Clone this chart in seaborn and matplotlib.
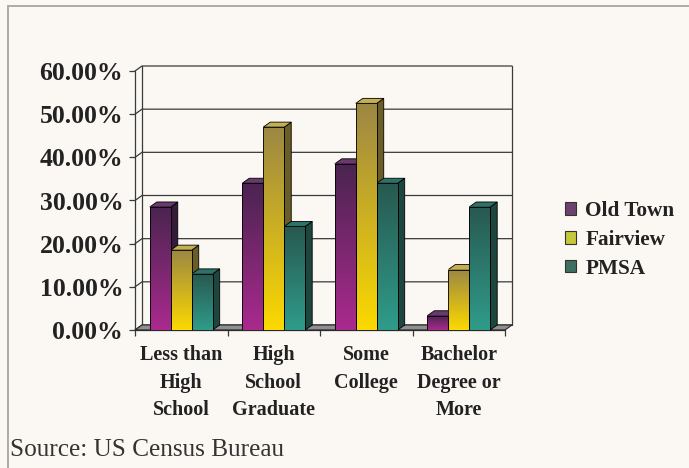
import numpy as np
import pandas as pd
import matplotlib
matplotlib.use("Agg")
import matplotlib.pyplot as plt
import seaborn as sns
from matplotlib.patches import Polygon, Patch
from matplotlib.colors import LinearSegmentedColormap, to_rgb
from matplotlib.lines import Line2D
from matplotlib.transforms import IdentityTransform

# ---- data -------------------------------------------------------------
levels = ["Less than\nHigh\nSchool", "High\nSchool\nGraduate",
          "Some\nCollege", "Bachelor\nDegree or\nMore"]
areas = ["Old Town", "Fairview", "PMSA"]
old_town = [28.5, 34.0, 38.5, 3.3]
fairview = [18.5, 47.0, 52.5, 14.0]
pmsa = [13.0, 24.0, 34.0, 28.5]
y_ticks = [0, 10, 20, 30, 40, 50, 60]
y_tick_labels = [f"{t:.2f}%" for t in y_ticks]
source_note = "Source: US Census Bureau"

df = pd.DataFrame({
    "level": levels * 3,
    "area": [a for a in areas for _ in levels],
    "pct": old_town + fairview + pmsa,
})

# ---- styling ----------------------------------------------------------
BG = "#fbf8f3"
INK = "#222222"
SERIF = "Liberation Serif"
DX, DY = 7, 5          # oblique depth of walls and bars, in pixels

shades = {
    "Old Town": dict(top="#4a2450", bottom="#aa2a8e", side="#361a3a", cap="#6a3a6e", swatch="#6b4270"),
    "Fairview": dict(top="#9c8744", bottom="#fcd900", side="#6a5e26", cap="#c4b050", swatch="#c6c83c"),
    "PMSA":     dict(top="#285850", bottom="#2f9c8a", side="#1d463f", cap="#2d7266", swatch="#3f6e62"),
}
palette = {a: shades[a]["swatch"] for a in areas}

sns.set_style("white")
plt.rcParams["font.family"] = [SERIF, "DejaVu Serif"]

fig = plt.figure(figsize=(6.89, 4.68), dpi=100, facecolor=BG)
ax = fig.add_axes([135 / 689, 138 / 468, 370 / 689, 259 / 468])
ax.patch.set_visible(False)

sns.barplot(data=df, x="level", y="pct", hue="area", order=levels,
            hue_order=areas, palette=palette, width=0.68, gap=0,
            saturation=1, legend=False, ax=ax, edgecolor="black",
            linewidth=0.6, zorder=3)
ax.set_xlim(-0.5, len(levels) - 0.5)
ax.set_ylim(0, 60)
for s in ax.spines.values():
    s.set_visible(False)
ax.set_xlabel("")
ax.set_ylabel("")

bars = list(ax.patches)


def px(x, y):
    return np.asarray(ax.transData.transform((x, y)), dtype=float)


off = np.array([DX, DY], dtype=float)
x_lo, x_hi = -0.5, len(levels) - 0.5

# back wall gridlines and left wall
for t in y_ticks:
    a = px(x_lo, t)
    c = px(x_hi, t) + off
    ax.add_line(Line2D([a[0], a[0] + DX, c[0]], [a[1], a[1] + DY, c[1]],
                       transform=IdentityTransform(), color="#3a3a3a",
                       lw=0.9, zorder=1, clip_on=False))
f0, f1 = px(x_lo, 0), px(x_lo, 60)
ax.add_line(Line2D([f0[0], f1[0]], [f0[1], f1[1]], transform=IdentityTransform(),
                   color="#3a3a3a", lw=0.9, zorder=1, clip_on=False))
for x in (x_lo, x_hi):
    b0, b1 = px(x, 0) + off, px(x, 60) + off
    ax.add_line(Line2D([b0[0], b1[0]], [b0[1], b1[1]], transform=IdentityTransform(),
                       color="#3a3a3a", lw=0.9, zorder=1, clip_on=False))

# floor
fl, fr = px(x_lo, 0), px(x_hi, 0)
ax.add_patch(Polygon([fl, fr, fr + off, fl + off], closed=True,
                     transform=IdentityTransform(), facecolor="#8f8f8f",
                     edgecolor="#2a2a2a", lw=0.8, zorder=1.2, clip_on=False))

# bars: gradient front faces plus side and top faces
grad = np.linspace(0, 1, 256).reshape(-1, 1)
swatch_rgb = {a: to_rgb(shades[a]["swatch"]) for a in areas}
for bar in bars:
    fc = bar.get_facecolor()[:3]
    area = min(areas, key=lambda a: sum((p - q) ** 2 for p, q in zip(fc, swatch_rgb[a])))
    sh = shades[area]
    x0, w, h = bar.get_x(), bar.get_width(), bar.get_height()
    cmap = LinearSegmentedColormap.from_list(area, [sh["top"], sh["bottom"]])
    ax.imshow(grad, extent=[x0, x0 + w, 0, h], cmap=cmap, aspect="auto",
              origin="upper", interpolation="bilinear", zorder=3)
    bar.set_facecolor("none")
    bar.set_zorder(3.1)

    bl, br, tr, tl = px(x0, 0), px(x0 + w, 0), px(x0 + w, h), px(x0, h)
    ax.add_patch(Polygon([br, br + off, tr + off, tr], closed=True,
                         transform=IdentityTransform(), facecolor=sh["side"],
                         edgecolor="black", lw=0.6, zorder=2.5, clip_on=False))
    ax.add_patch(Polygon([tl, tr, tr + off, tl + off], closed=True,
                         transform=IdentityTransform(), facecolor=sh["cap"],
                         edgecolor="black", lw=0.6, zorder=2.6, clip_on=False))

ax.set_xlim(x_lo, x_hi)
ax.set_ylim(0, 60)

# ticks and labels
ax.set_yticks(y_ticks)
ax.set_yticklabels(y_tick_labels, fontsize=18.5, fontweight="bold", color=INK)
ax.tick_params(axis="y", length=4, width=0.9, color="#3a3a3a", pad=4.5, left=True)

ax.set_xticks(range(len(levels)))
ax.set_xticklabels(levels, fontsize=14.5, fontweight="bold", color=INK,
                   linespacing=1.5)
ax.set_xticks(np.arange(x_lo, x_hi + 0.01, 1.0), minor=True)
ax.tick_params(axis="x", which="major", length=0, pad=11)
ax.tick_params(axis="x", which="minor", length=4, width=0.9, color="#3a3a3a",
               bottom=True)
ax.add_line(Line2D([fl[0], fr[0]], [fl[1], fr[1]], transform=IdentityTransform(),
                   color="#2a2a2a", lw=0.9, zorder=1.3, clip_on=False))

# legend
handles = [Patch(facecolor=shades[a]["swatch"], edgecolor="#333333", lw=0.8) for a in areas]
fig.legend(handles, areas, loc="center left",
           bbox_to_anchor=(565 / 689, 1 - 240 / 468), frameon=False,
           borderaxespad=0, borderpad=0, handlelength=0.5, handleheight=0.5,
           handletextpad=0.45, labelspacing=0.42,
           prop=dict(family=SERIF, weight="bold", size=15.3), labelcolor=INK)

# source line and frame
fig.text(10 / 689, 1 - 450 / 468, source_note, fontsize=18.2, color="#333333",
         va="center", ha="left", family=SERIF)
fig.add_artist(Line2D([8 / 689, 1], [1 - 6 / 468] * 2, transform=fig.transFigure,
                      color="#a5a5a5", lw=1.3))
fig.add_artist(Line2D([8 / 689] * 2, [0, 1 - 6 / 468], transform=fig.transFigure,
                      color="#a5a5a5", lw=1.3))

fig.savefig("out.png", dpi=100, facecolor=BG)
